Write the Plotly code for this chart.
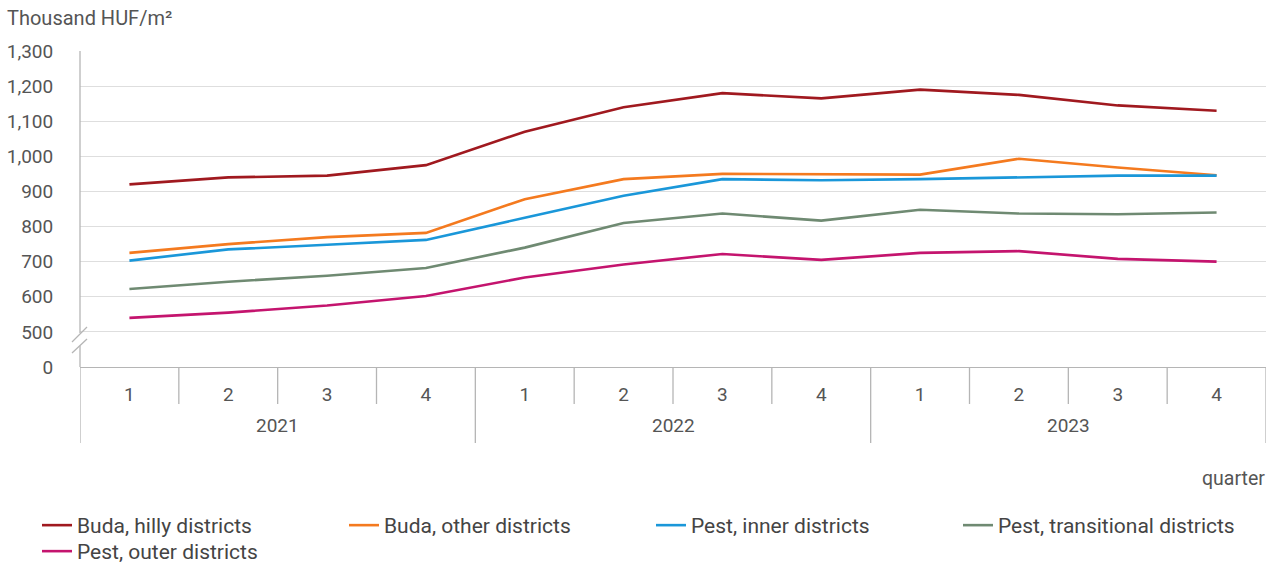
import plotly.graph_objects as go

years = ["2021", "2022", "2023"]
quarters = ["1", "2", "3", "4"]
quarter_labels = quarters * 3

buda_hilly = [920, 940, 945, 975, 1070, 1140, 1180, 1165, 1190, 1175, 1145, 1130]
buda_other = [725, 750, 770, 782, 878, 935, 950, 948, 948, 993, 968, 946]
pest_inner = [703, 735, 748, 762, 825, 888, 935, 932, 935, 940, 945, 945]
pest_trans = [622, 643, 660, 682, 740, 810, 837, 817, 848, 837, 835, 840]
pest_outer = [540, 555, 575, 602, 655, 692, 722, 705, 725, 730, 708, 700]

series = [
    ("Buda, hilly districts", buda_hilly, "#a0191f", "legend"),
    ("Buda, other districts", buda_other, "#f47a1f", "legend"),
    ("Pest, inner districts", pest_inner, "#1a97d9", "legend"),
    ("Pest, transitional districts", pest_trans, "#6f8a72", "legend"),
    ("Pest, outer districts", pest_outer, "#c4146e", "legend2"),
]

y_tickvals = [400, 500, 600, 700, 800, 900, 1000, 1100, 1200, 1300]
y_ticktext = ["0", "500", "600", "700", "800", "900", "1,000", "1,100", "1,200", "1,300"]

W, H = 1274, 565
L, R, T, B = 80, 8, 51, 198
PW = W - L - R
PH = H - T - B


def px(xp):
    return (xp - L) / PW


def py(yp):
    return (H - B - yp) / PH


xs = list(range(12))
fig = go.Figure()
for name, vals, col, lg in series:
    fig.add_trace(go.Scatter(x=xs, y=vals, mode="lines", name=name, legend=lg,
                             line=dict(color=col, width=2.6)))

axis_col = "#b5b5b5"
txt_col = "#555555"
shapes = []
# quarter boundary ticks
for yi in range(3):
    for q in range(1, 4):
        xb = yi * 4 + q - 0.5
        shapes.append(dict(type="line", xref="x", yref="paper", x0=xb, x1=xb,
                           y0=0, y1=py(404), line=dict(color=axis_col, width=1.3)))
# year dividers
for xb in [-0.5, 3.5, 7.5, 11.5]:
    shapes.append(dict(type="line", xref="x", yref="paper", x0=xb, x1=xb,
                       y0=0, y1=py(443), line=dict(color=axis_col, width=1.3)))
# y axis line with break
shapes.append(dict(type="line", xref="paper", yref="paper", x0=0, x1=0,
                   y0=py(333), y1=1, line=dict(color=axis_col, width=1.3)))
shapes.append(dict(type="line", xref="paper", yref="paper", x0=0, x1=0,
                   y0=0, y1=py(346), line=dict(color=axis_col, width=1.3)))
shapes.append(dict(type="line", xref="paper", yref="paper", x0=px(72), x1=px(87),
                   y0=py(342), y1=py(327), line=dict(color=axis_col, width=1.3)))
shapes.append(dict(type="line", xref="paper", yref="paper", x0=px(72), x1=px(87),
                   y0=py(353), y1=py(339), line=dict(color=axis_col, width=1.3)))

annotations = []
for i, yr in enumerate(years):
    annotations.append(dict(text=yr, x=i * 4 + 1.5, xref="x", y=py(425), yref="paper",
                            showarrow=False, xanchor="center", yanchor="middle",
                            font=dict(size=19, color=txt_col, family="Roboto")))
annotations.append(dict(text="quarter", x=px(1267), xref="paper", y=py(478), yref="paper",
                        showarrow=False, xanchor="right", yanchor="middle",
                        font=dict(size=19.5, color=txt_col, family="Roboto")))
annotations.append(dict(text="Thousand HUF/m²", x=px(5), xref="paper", y=py(18), yref="paper",
                        showarrow=False, xanchor="left", yanchor="middle",
                        font=dict(size=20, color=txt_col, family="Roboto")))

legend_common = dict(orientation="h", xanchor="left", yanchor="top",
                     entrywidth=262, entrywidthmode="pixels",
                     font=dict(family="Roboto", size=21, color="#444444"),
                     itemwidth=30, tracegroupgap=0, bgcolor="rgba(0,0,0,0)")

fig.update_layout(
    width=W, height=H,
    margin=dict(l=L, r=R, t=T, b=B, autoexpand=False),
    plot_bgcolor="white", paper_bgcolor="white",
    font=dict(family="Roboto", size=19, color=txt_col),
    shapes=shapes, annotations=annotations,
    showlegend=True,
    legend=dict(x=px(37), y=py(505), **legend_common),
    legend2=dict(x=px(37), y=py(531), **legend_common),
)
fig.update_xaxes(range=[-0.5, 11.5], tickvals=xs, ticktext=quarter_labels,
                 showgrid=False, zeroline=False, showline=True, linecolor=axis_col,
                 linewidth=1.3, ticks="outside", ticklen=10, tickcolor="rgba(0,0,0,0)",
                 tickfont=dict(size=19, color=txt_col), fixedrange=True, automargin=False)
fig.update_yaxes(range=[400, 1300], tickvals=y_tickvals, ticktext=y_ticktext,
                 showgrid=True, gridcolor="#dedede", gridwidth=1, zeroline=False,
                 showline=False, ticks="outside", ticklen=22, tickcolor="rgba(0,0,0,0)",
                 tickfont=dict(size=19, color=txt_col), fixedrange=True, automargin=False)

fig.write_html("out.html", config={"displayModeBar": False},
               post_script="document.body.style.margin='0';document.body.style.overflow='hidden';")
